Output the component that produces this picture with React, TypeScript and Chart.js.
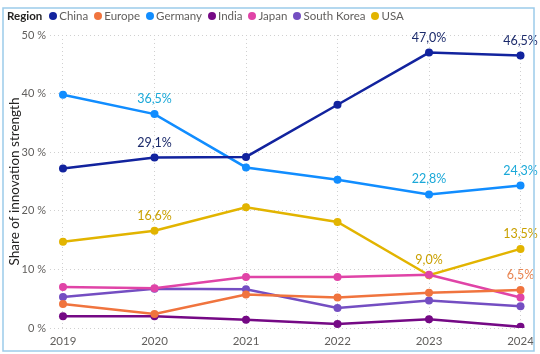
import React, { useEffect, useRef } from "react";
import { Chart, registerables } from "chart.js";

Chart.register(...registerables);

const years = [2019, 2020, 2021, 2022, 2023, 2024];
const yTicks = [0, 10, 20, 30, 40, 50];

const seriesNames = ["China", "Europe", "Germany", "India", "Japan", "South Korea", "USA"];
const seriesColors = ["#12239E", "#F0743E", "#118DFF", "#750985", "#E044A7", "#744EC2", "#E2B400"];
const labelColors = ["#1B2A6B", "#E8834F", "#1AA8D8", "#750985", "#E044A7", "#744EC2", "#C9A000"];

const china = [27.2, 29.1, 29.2, 38.1, 47.0, 46.5];
const europe = [4.1, 2.4, 5.7, 5.2, 6.0, 6.5];
const germany = [39.8, 36.5, 27.4, 25.3, 22.8, 24.3];
const india = [2.0, 2.0, 1.4, 0.7, 1.5, 0.2];
const japan = [7.0, 6.8, 8.7, 8.7, 9.1, 5.2];
const southKorea = [5.3, 6.7, 6.6, 3.4, 4.7, 3.7];
const usa = [14.7, 16.6, 20.6, 18.1, 9.0, 13.5];

const seriesValues = [china, europe, germany, india, japan, southKorea, usa];
// indices of points carrying a data label, per series
const labelledPoints = [[1, 4, 5], [5], [1, 4, 5], [], [], [], [1, 4, 5]];

const FONT = "Lato, 'Noto Sans', sans-serif";

const fmt = (v: number) => v.toFixed(1).replace(".", ",") + "%";

const dataLabelPlugin = {
  id: "dataLabels",
  afterDatasetsDraw(chart: any) {
    const ctx = chart.ctx;
    ctx.save();
    ctx.font = `12.5px ${FONT}`;
    ctx.textAlign = "center";
    ctx.textBaseline = "middle";
    chart.data.datasets.forEach((ds: any, di: number) => {
      const meta = chart.getDatasetMeta(di);
      labelledPoints[di].forEach((pi) => {
        const el = meta.data[pi];
        if (!el) return;
        ctx.fillStyle = labelColors[di];
        ctx.fillText(fmt(seriesValues[di][pi]), el.x, el.y - 15);
      });
    });
    ctx.restore();
  },
};

const borderPlugin = {
  id: "frame",
  afterDraw(chart: any) {
    const ctx = chart.ctx;
    ctx.save();
    ctx.strokeStyle = "#9CCBEA";
    ctx.lineWidth = 1.5;
    ctx.strokeRect(3, 8, 531, 343);
    ctx.restore();
  },
};

export default function App() {
  const canvasRef = useRef<HTMLCanvasElement | null>(null);

  useEffect(() => {
    document.body.style.margin = "0";
    const canvas = canvasRef.current;
    if (!canvas) return;
    const chart = new Chart(canvas, {
      type: "line",
      data: {
        datasets: seriesNames.map((name, i) => ({
          label: name,
          data: years.map((y, j) => ({ x: y, y: seriesValues[i][j] })),
          borderColor: seriesColors[i],
          backgroundColor: seriesColors[i],
          borderWidth: 2.5,
          pointRadius: 4,
          pointHoverRadius: 4,
          pointBorderWidth: 0,
          tension: 0,
        })),
      },
      options: {
        animation: false,
        responsive: false,
        maintainAspectRatio: false,
        layout: { padding: { top: 35, right: 14, left: 0, bottom: 0 } },
        plugins: {
          legend: { display: false },
          tooltip: { enabled: false },
        },
        scales: {
          x: {
            type: "linear",
            min: 2018.858,
            max: 2024.055,
            afterBuildTicks: (scale: any) => {
              scale.ticks = years.map((v) => ({ value: v }));
            },
            afterFit: (scale: any) => {
              scale.height = 26;
            },
            ticks: {
              callback: (v: any) => String(v),
              color: "#605E5C",
              font: { family: FONT, size: 11.5 },
              padding: 6,
              maxRotation: 0,
              autoSkip: false,
            },
            grid: {
              color: "#D0D0D0",
              drawTicks: false,
            },
            border: { display: false, dash: [1, 3] },
          },
          y: {
            min: 0,
            max: 50,
            afterBuildTicks: (scale: any) => {
              scale.ticks = yTicks.map((v) => ({ value: v }));
            },
            afterFit: (scale: any) => {
              scale.width = 50;
            },
            ticks: {
              callback: (v: any) => `${v} %`,
              color: "#605E5C",
              font: { family: FONT, size: 11 },
              padding: 4,
            },
            grid: {
              color: "#D0D0D0",
              drawTicks: false,
            },
            border: { display: false, dash: [1, 3] },
            title: {
              display: true,
              text: "Share of innovation strength",
              color: "#252423",
              font: { family: FONT, size: 13.5 },
              padding: { top: 7, bottom: 0 },
            },
          },
        },
      },
      plugins: [dataLabelPlugin, borderPlugin],
    });
    return () => chart.destroy();
  }, []);

  return (
    <div style={{ position: "relative", width: 540, height: 354, background: "#fff" }}>
      <canvas ref={canvasRef} width={540} height={354} style={{ position: "absolute", left: 0, top: 0 }} />
      <div
        style={{
          position: "absolute",
          left: 7,
          top: 9,
          display: "flex",
          alignItems: "center",
          fontFamily: FONT,
          fontSize: 11.5,
          color: "#605E5C",
          whiteSpace: "nowrap",
        }}
      >
        <span style={{ fontWeight: 700, color: "#252423", marginRight: 7 }}>Region</span>
        {seriesNames.map((n, i) => (
          <span key={n} style={{ display: "flex", alignItems: "center", marginRight: 6 }}>
            <span
              style={{
                width: 8,
                height: 8,
                borderRadius: "50%",
                background: seriesColors[i],
                display: "inline-block",
                marginRight: 2,
              }}
            />
            {n}
          </span>
        ))}
      </div>
    </div>
  );
}
